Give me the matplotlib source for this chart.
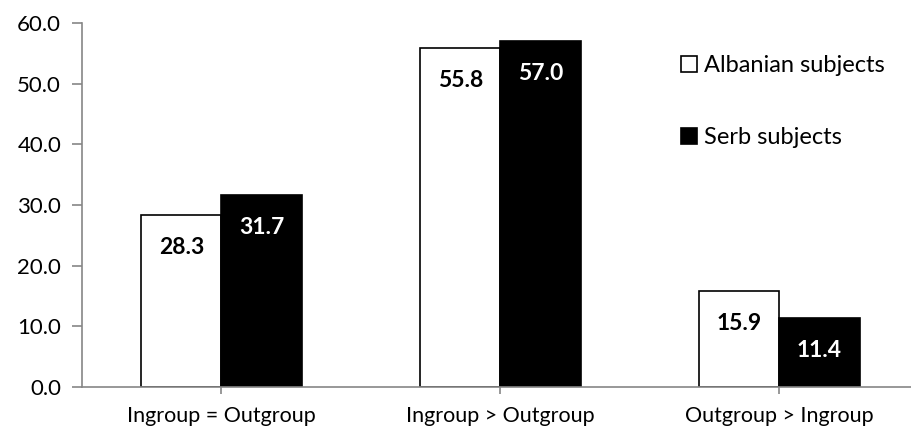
import matplotlib.pyplot as plt
import numpy as np

# data
categories = ['Ingroup = Outgroup', 'Ingroup > Outgroup', 'Outgroup > Ingroup']
albanian = [28.3, 55.8, 15.9]
serb = [31.7, 57.0, 11.4]
series_names = ['Albanian subjects', 'Serb subjects']

plt.rcParams['font.family'] = ['Lato', 'DejaVu Sans']

fig = plt.figure(figsize=(9.12, 4.4), dpi=100)
ax = fig.add_axes([82/912, 53/440, 1 - 82/912, 364/440])

x = np.arange(len(categories))
w = 0.287
b1 = ax.bar(x - w/2, albanian, w, color='white', edgecolor='black', linewidth=1.2,
            label=series_names[0])
b2 = ax.bar(x + w/2, serb, w, color='black', edgecolor='black', linewidth=1.2,
            label=series_names[1])

for bars, col in ((b1, 'black'), (b2, 'white')):
    for r in bars:
        ax.annotate(f'{r.get_height():.1f}', (r.get_x() + r.get_width()/2, r.get_height()),
                    xytext=(0, -22), textcoords='offset pixels', ha='center', va='top',
                    fontsize=16.5, fontweight='bold', color=col)

ax.set_xlim(-0.5, 2.475)
ax.set_ylim(0, 60)
ax.set_yticks(np.arange(0, 61, 10))
ax.set_yticklabels([f'{v:.1f}' for v in np.arange(0, 61, 10)])
ax.set_xticks(x)
ax.set_xticklabels(categories)

gray = '#868686'
for s in ('top', 'right'):
    ax.spines[s].set_visible(False)
for s in ('left', 'bottom'):
    ax.spines[s].set_color(gray)
    ax.spines[s].set_linewidth(1.2)
ax.tick_params(axis='y', length=7, width=1.2, color=gray, pad=8, labelsize=16)
ax.tick_params(axis='x', length=5, width=1.2, color=gray, pad=9, labelsize=15.5)

leg = ax.legend(loc='upper left', bbox_to_anchor=(578/830, 1 - 11/364), frameon=False,
                fontsize=17, handlelength=0.65, handleheight=0.65, handletextpad=0.3,
                labelspacing=2.15)

fig.savefig('out.png', dpi=100)
